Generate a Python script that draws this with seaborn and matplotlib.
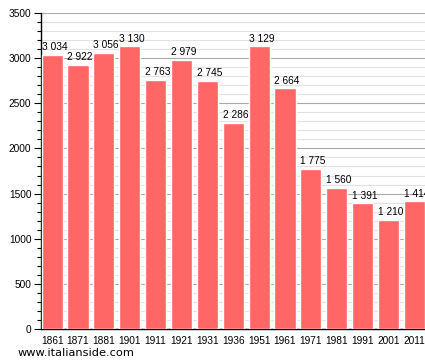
import matplotlib
matplotlib.use("Agg")
import matplotlib.pyplot as plt
import seaborn as sns
import pandas as pd
from matplotlib.ticker import MultipleLocator

years = ["1861", "1871", "1881", "1901", "1911", "1921", "1931", "1936",
         "1951", "1961", "1971", "1981", "1991", "2001", "2011"]
population = [3034, 2922, 3056, 3130, 2763, 2979, 2745, 2286,
              3129, 2664, 1775, 1560, 1391, 1210, 1414]

df = pd.DataFrame({"year": years, "pop": population})

sns.set_style("white")
plt.rcParams["font.family"] = ["Liberation Sans", "DejaVu Sans"]
plt.rcParams["text.color"] = "black"
plt.rcParams["xtick.color"] = "black"
plt.rcParams["ytick.color"] = "black"

fig = plt.figure(figsize=(4.25, 3.63), dpi=100)
ax = fig.add_axes([41 / 425, 1 - 329 / 363, 1 - 41 / 425, (329 - 13) / 363])

bar_w = 0.82
sns.barplot(data=df, x="year", y="pop", color="#ff6666", saturation=1,
            width=bar_w, ax=ax, zorder=3)

ax.set_ylim(0, 3500)
ax.set_xlim(-bar_w / 2 - 0.02, len(years) - 1 + bar_w / 2)
ax.yaxis.set_major_locator(MultipleLocator(500))
ax.yaxis.set_minor_locator(MultipleLocator(100))
ax.grid(axis="y", which="major", color="#aaaaaa", linewidth=0.8, zorder=0)
ax.grid(axis="y", which="minor", color="#e2e2e2", linewidth=0.8, zorder=0)
ax.set_axisbelow(True)

for s in ["top", "right"]:
    ax.spines[s].set_visible(False)
for s in ["left", "bottom"]:
    ax.spines[s].set_color("black")
    ax.spines[s].set_linewidth(1.0)

ax.tick_params(axis="y", which="major", left=True, length=5, width=0.8,
               labelsize=7.3, pad=2, color="black", labelcolor="black")
ax.tick_params(axis="y", which="minor", left=True, length=3, width=0.8,
               color="black")
ax.tick_params(axis="x", bottom=False, labelsize=7.3, pad=1.5,
               labelcolor="black")
ax.set_xlabel("")
ax.set_ylabel("")

for i, v in enumerate(population):
    label = f"{v:,}".replace(",", " ")
    ax.text(i - bar_w / 2, v + 30, label, ha="left", va="bottom",
            fontsize=7.3, color="black", clip_on=False)

fig.text(18 / 425, 1 - 353 / 363, "www.italianside.com", fontsize=8.2,
         family="DejaVu Sans", va="center", ha="left", color="black")

fig.savefig("out.png", dpi=100)
